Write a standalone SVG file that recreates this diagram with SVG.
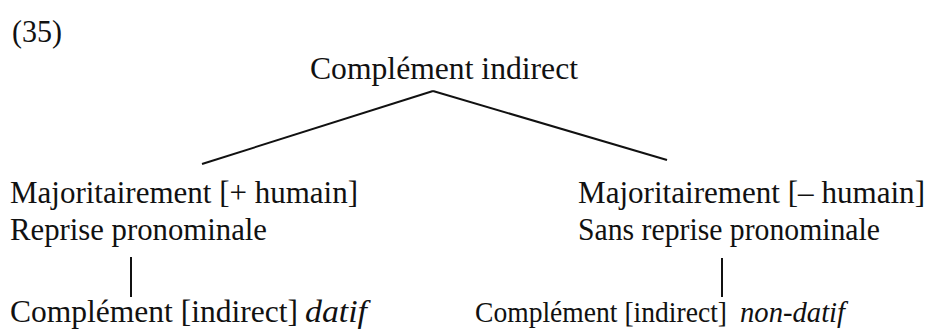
<svg xmlns="http://www.w3.org/2000/svg" width="930" height="331" viewBox="0 0 930 331">
<style>
text{font-family:"Liberation Serif","DejaVu Serif",serif;font-size:31px;fill:#111}
.i{font-style:italic}
.s{font-size:30px}
.c line{stroke:#111;stroke-width:2;stroke-linecap:butt}
</style>
<rect width="930" height="331" fill="#fff"/>
<text x="12" y="42" textLength="50" lengthAdjust="spacingAndGlyphs">(35)</text>
<g id="root"><text x="310" y="79" textLength="268" lengthAdjust="spacingAndGlyphs">Complément indirect</text></g>
<g id="left">
<text x="10" y="203" textLength="348" lengthAdjust="spacingAndGlyphs">Majoritairement [+ humain]</text>
<text x="10" y="240" textLength="257" lengthAdjust="spacingAndGlyphs">Reprise pronominale</text>
</g>
<g id="right">
<text x="578" y="203" textLength="347" lengthAdjust="spacingAndGlyphs">Majoritairement [– humain]</text>
<text x="578" y="240" textLength="302" lengthAdjust="spacingAndGlyphs">Sans reprise pronominale</text>
</g>
<g id="datif">
<text x="10" y="322" textLength="288" lengthAdjust="spacingAndGlyphs">Complément [indirect]</text>
<text class="i" x="305" y="322" textLength="62" lengthAdjust="spacingAndGlyphs">datif</text>
</g>
<g id="nondatif">
<text class="s" x="475" y="322" textLength="252" lengthAdjust="spacingAndGlyphs">Complément [indirect]</text>
<text class="i s" x="740" y="322" textLength="105" lengthAdjust="spacingAndGlyphs">non-datif</text>
</g>
<g id="connectors" class="c">
<line x1="433" y1="91" x2="202" y2="164"/>
<line x1="433" y1="91" x2="667" y2="160"/>
<line x1="131" y1="257" x2="131" y2="297"/>
<line x1="722" y1="258" x2="722" y2="297"/>
</g>
</svg>
